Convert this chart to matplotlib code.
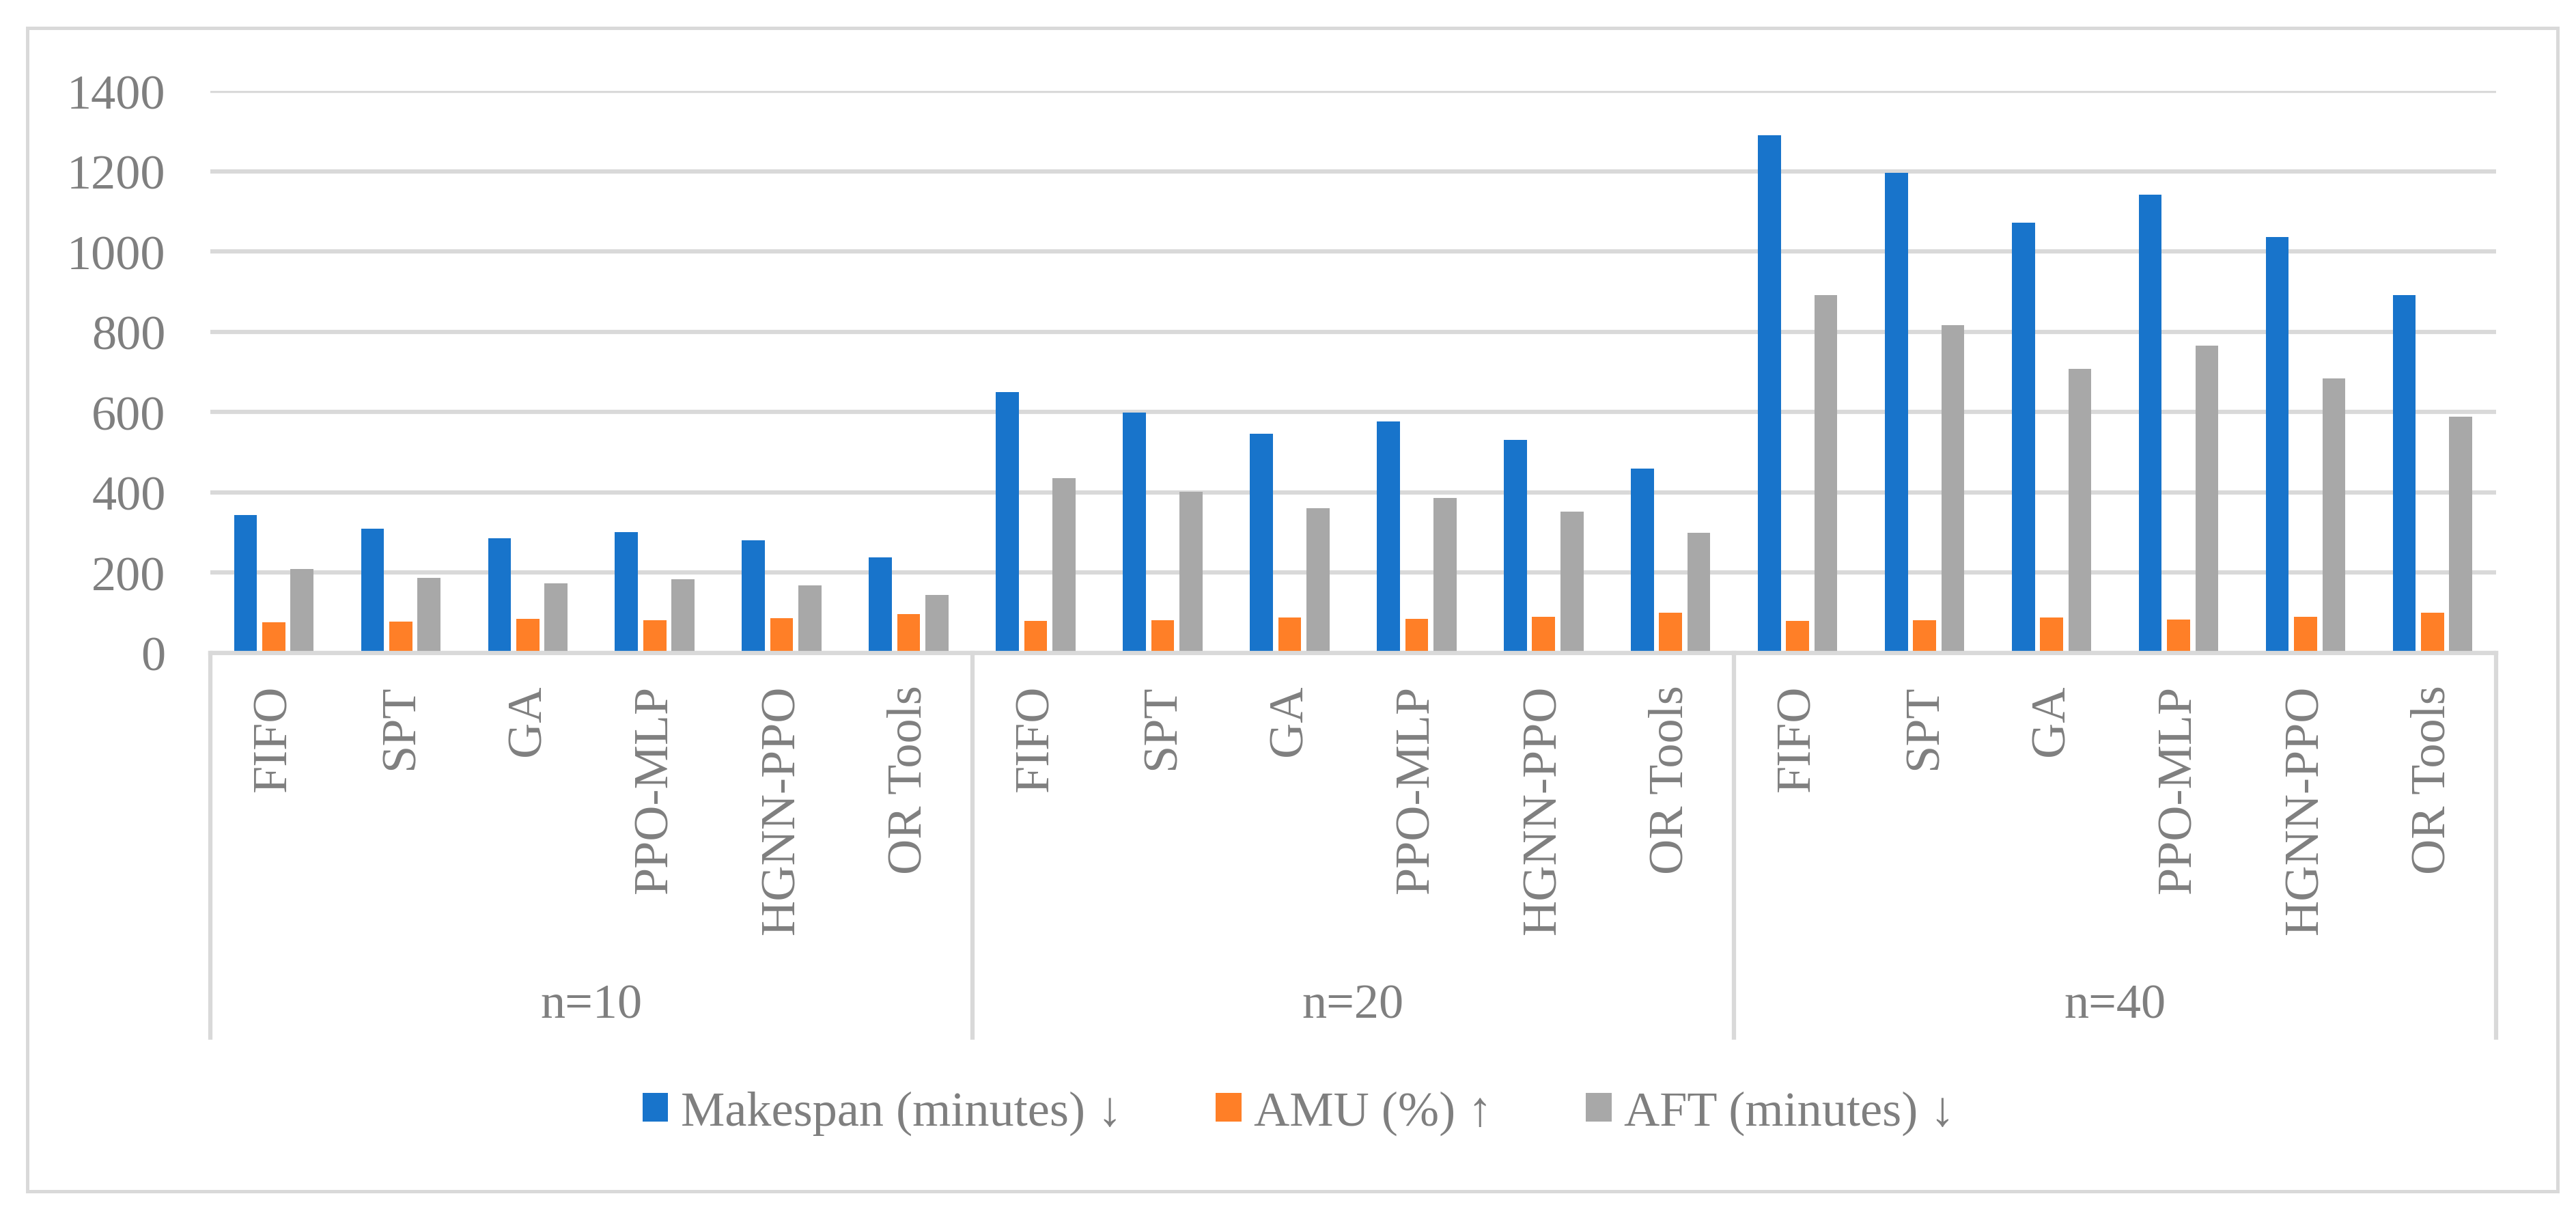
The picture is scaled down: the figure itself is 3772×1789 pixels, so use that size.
import matplotlib.pyplot as plt
import matplotlib.transforms as mtransforms
from matplotlib.patches import Rectangle
import numpy as np

plt.rcParams['font.family'] = ['Liberation Serif', 'DejaVu Serif']

groups = ['n=10', 'n=20', 'n=40']
methods = ['FIFO', 'SPT', 'GA', 'PPO-MLP', 'HGNN-PPO', 'OR Tools']

# values read per group, in method order
makespan = [344, 310, 286, 301, 281, 238,
            650, 599, 546, 577, 531, 459,
            1290, 1196, 1071, 1141, 1036, 891]
amu = [76, 79, 85, 82, 87, 97,
       80, 81, 88, 85, 90, 100,
       80, 82, 89, 84, 90, 100]
aft = [209, 187, 173, 184, 169, 145,
       435, 401, 361, 386, 352, 299,
       891, 816, 707, 766, 683, 589]

series_names = ['Makespan (minutes) \u2193', 'AMU (%) \u2191', 'AFT (minutes) \u2193']
colors = ['#1874CB', '#FF7F27', '#A8A8A8']
grid_c = '#D9D9D9'
text_c = '#7F7F7F'
fs = 52

fig = plt.figure(figsize=(37.73, 17.9), dpi=100)
ax = fig.add_axes([0.0816, 0.4654, 0.9687 - 0.0816, 0.9251 - 0.4654])

x = np.arange(len(groups) * len(methods))
w = 0.181
d = 0.2226
for k, vals in enumerate([makespan, amu, aft]):
    ax.bar(x + (k - 1) * d, vals, width=w, color=colors[k], label=series_names[k], zorder=2)

ax.set_xlim(-0.5, len(x) - 0.5)
ax.set_ylim(0, 1400)
ax.set_yticks(range(0, 1401, 200))
ax.yaxis.grid(True, color=grid_c, linewidth=4.5)
ax.set_axisbelow(True)

for s in ['top', 'right', 'left']:
    ax.spines[s].set_visible(False)
ax.spines['bottom'].set_color(grid_c)
ax.spines['bottom'].set_linewidth(4.5)
ax.spines['bottom'].set_zorder(3)

ax.set_xticks(x)
ax.set_xticklabels(methods * len(groups), rotation=90)
ax.tick_params(axis='x', length=0, pad=33, labelsize=fs, labelcolor=text_c)
ax.tick_params(axis='y', length=0, pad=47, labelsize=fs, labelcolor=text_c)

# group level of the category axis
trans = mtransforms.blended_transform_factory(ax.transData, ax.transAxes)
for i, g in enumerate(groups):
    c = i * len(methods) + (len(methods) - 1) / 2
    ax.text(c, -0.627, g, transform=trans, ha='center', va='center',
            fontsize=fs, color=text_c)
for b in np.arange(len(groups) + 1) * len(methods) - 0.5:
    ax.plot([b, b], [0, -0.684], transform=trans, color=grid_c,
            linewidth=4.5, clip_on=False)

fig.legend(loc='center', bbox_to_anchor=(0.504, 0.089), ncol=3, frameon=False,
           fontsize=fs, labelcolor=text_c, handlelength=0.52, handleheight=0.52,
           handletextpad=0.25, columnspacing=1.9)

fig.patches.append(Rectangle((0.0106, 0.0251), 0.9926 - 0.0106, 0.9765 - 0.0251,
                             transform=fig.transFigure, fill=False,
                             edgecolor=grid_c, linewidth=3.6))

fig.savefig('out.png', dpi=100, facecolor='white')
